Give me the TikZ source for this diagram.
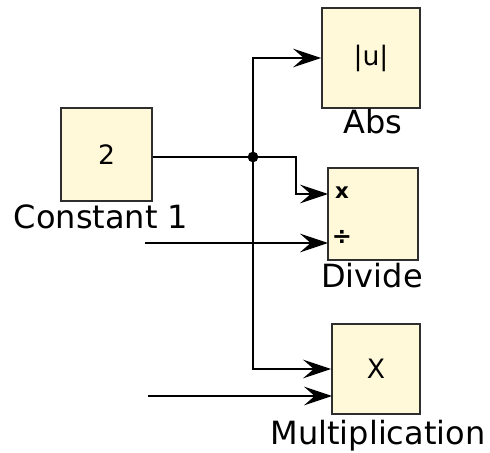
\documentclass[tikz,border=0pt]{standalone}
\usepackage{fontspec}
\setmainfont{DejaVu Sans}
\usetikzlibrary{arrows.meta}

\definecolor{blockfill}{HTML}{FFF9DA}
\definecolor{blockline}{HTML}{2E2E2E}

\tikzset{
  block/.style={draw=blockline, fill=blockfill, line width=1.4pt, inner sep=0pt, font=\fontsize{20}{23}\selectfont},
  blocklabel/.style={font=\fontsize{24}{28}\selectfont, inner sep=0pt},
  wire/.style={line width=1.1pt, black},
  sig/.style={wire, -{Stealth[length=21pt, width=14pt, inset=8pt]}}
}

\begin{document}
\begin{tikzpicture}[x=0.75pt, y=-0.75pt]
\useasboundingbox (0,0) rectangle (490,453);

% blocks
\node[block, minimum width=68pt, minimum height=70pt] (const) at (106.5,154.5) {2};
\node[block, minimum width=73.5pt, minimum height=75pt] (abs) at (371,58) {|u|};
\node[block, minimum width=67.5pt, minimum height=69pt] (div) at (373,214) {};
\node[block, minimum width=66pt, minimum height=67.5pt] (mult) at (376,369) {X};

% block names
\node[blocklabel] (constlbl) at (101,217) {Constant 1};
\node[blocklabel] (abslbl) at (373,122) {Abs};
\node[blocklabel] (divlbl) at (372,276) {Divide};
\node[blocklabel] (multlbl) at (378,436) {Multiplication};

% port marks of the divide block
\node[font=\fontsize{16}{18}\selectfont\bfseries, inner sep=0pt] (xmark) at (342,193) {x};
\node[font=\fontsize{18}{20}\selectfont\bfseries, inner sep=0pt] (divmark) at (342,237) {÷};

% ports and free ends
\coordinate (jn) at (253,157);
\coordinate (divin1) at (328,194);
\coordinate (divin2) at (328,243);
\coordinate (multin2) at (332,396);
\coordinate (src2) at (145,243);
\coordinate (src3) at (148,396);

% wires
\draw[wire] (const.east |- jn) -- (jn);
\fill (jn) circle (4pt);
\draw[sig] (jn) |- (abs.west);
\draw[sig] (jn) -- ++(43,0) |- (divin1);
\draw[sig] (jn) |- (mult.west);
\draw[sig] (src2) -- (divin2);
\draw[sig] (src3) -- (multin2);

\end{tikzpicture}
\end{document}
